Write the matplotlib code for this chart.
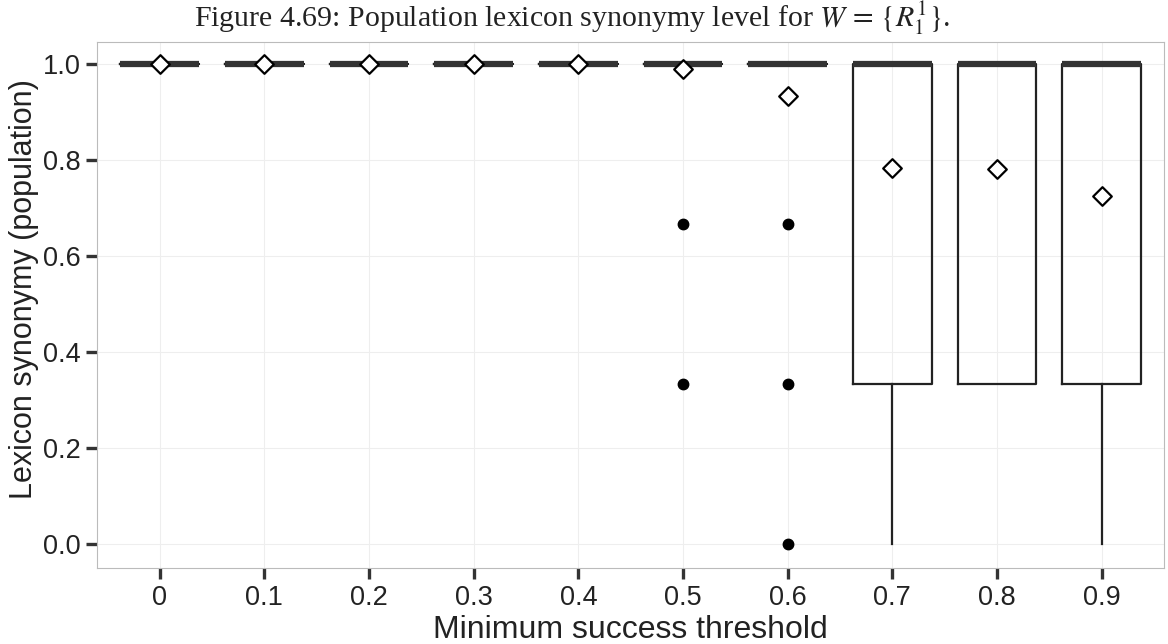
import matplotlib
matplotlib.use("Agg")
import matplotlib.pyplot as plt

# thresholds on the x axis
labels = ["0", "0.1", "0.2", "0.3", "0.4", "0.5", "0.6", "0.7", "0.8", "0.9"]
# box statistics
q1 = [1.0, 1.0, 1.0, 1.0, 1.0, 1.0, 1.0, 0.333, 0.333, 0.333]
med = [1.0, 1.0, 1.0, 1.0, 1.0, 1.0, 1.0, 1.0, 1.0, 1.0]
q3 = [1.0, 1.0, 1.0, 1.0, 1.0, 1.0, 1.0, 1.0, 1.0, 1.0]
wlo = [1.0, 1.0, 1.0, 1.0, 1.0, 1.0, 1.0, 0.0, 0.333, 0.0]
whi = [1.0, 1.0, 1.0, 1.0, 1.0, 1.0, 1.0, 1.0, 1.0, 1.0]
outliers = [[], [], [], [], [], [0.667, 0.333], [0.667, 0.333, 0.0], [], [], []]
means = [1.0, 1.0, 1.0, 1.0, 1.0, 0.99, 0.933, 0.783, 0.781, 0.725]

plt.rcParams['font.family'] = ['Liberation Sans', 'DejaVu Sans']
plt.rcParams['mathtext.fontset'] = 'stix'

fig = plt.figure(figsize=(11.68, 6.44), dpi=100)
ax = fig.add_axes([0.083, 0.118, 0.914, 0.817])

stats = []
for i in range(len(labels)):
    stats.append(dict(q1=q1[i], med=med[i], q3=q3[i], whislo=wlo[i],
                      whishi=whi[i], fliers=outliers[i], label=labels[i]))

pos = list(range(len(labels)))
ax.bxp(stats, positions=pos, widths=0.75, showcaps=False,
       boxprops=dict(color="#222222", linewidth=1.6),
       whiskerprops=dict(color="#222222", linewidth=1.6),
       medianprops=dict(color="#333333", linewidth=4.5, solid_capstyle="butt"),
       flierprops=dict(marker="o", markerfacecolor="black",
                       markeredgecolor="black", markersize=7.5),
       zorder=3)
ax.scatter(pos, means, marker="D", s=90, facecolors="white",
           edgecolors="black", linewidths=1.6, zorder=5)

ax.set_xlim(-0.6, 9.6)
ax.set_ylim(-0.05, 1.046)
ax.set_yticks([0.0, 0.2, 0.4, 0.6, 0.8, 1.0])
ax.set_yticklabels(["0.0", "0.2", "0.4", "0.6", "0.8", "1.0"])
ax.set_xticks(pos)
ax.set_xticklabels(labels)
ax.grid(True, color="#eeeeee", linewidth=0.8)
ax.set_axisbelow(True)
for s in ax.spines.values():
    s.set_color("#bbbbbb")
    s.set_linewidth(0.8)
ax.tick_params(axis="both", direction="out", length=8, width=2.4,
               color="#333333", labelsize=19.5, labelcolor="#222222", pad=4)

ax.set_xlabel("Minimum success threshold", fontsize=23, color="#222222", labelpad=3)
ax.set_ylabel("Lexicon synonymy (population)", fontsize=22, color="#222222")
ax.yaxis.set_label_coords(-0.054, 0.53)

fig.text(0.49, 0.972, r"Figure 4.69: Population lexicon synonymy level for $W\,=\,\{R_1^1\}$.",
         ha="center", va="center", fontsize=21.5, family="Liberation Serif", color="#222222")

fig.savefig("out.png", dpi=100, facecolor="white")
